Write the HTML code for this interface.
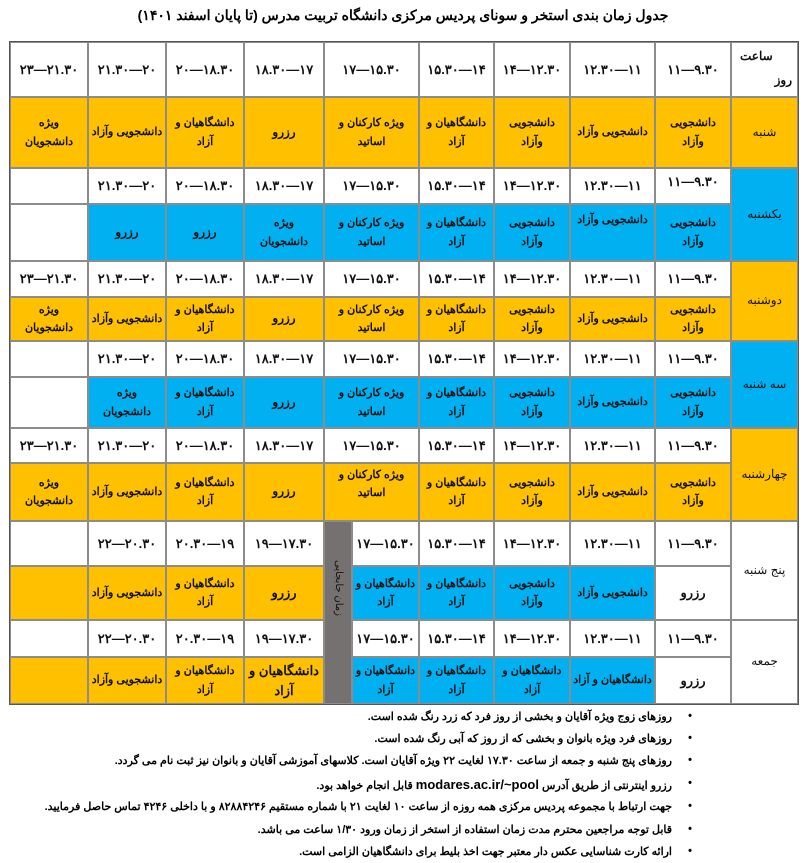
<!DOCTYPE html>
<html><head><meta charset="utf-8"><style>
body{margin:0;width:806px;height:863px;background:#fff;position:relative;overflow:hidden;font-family:"Liberation Sans","Noto Sans CJK SC",sans-serif;}
.c{position:absolute;box-sizing:border-box;border:1px solid #8c8c8c;display:flex;align-items:center;justify-content:center;text-align:center;font-weight:bold;font-size:11px;line-height:1.65;color:#111;direction:rtl;white-space:nowrap;overflow:hidden}
.t{direction:ltr;font-size:13px}
.y{background:#FFC000}.b{background:#00B0F0}.w{background:#fff}
.g{background:#767171}
.title{position:absolute;top:7px;left:0;width:806px;text-align:center;font-weight:bold;font-size:14px;direction:rtl}
.n{position:absolute;right:134px;font-weight:bold;font-size:11px;direction:rtl;white-space:nowrap}
.n:after{content:"•";position:absolute;right:-20px;}
.d{font-weight:normal;font-size:12px}
</style></head><body>
<div class="title">جدول زمان بندی استخر و سونای پردیس مرکزی دانشگاه تربیت مدرس (تا پایان اسفند ۱۴۰۱)</div>
<div style="position:absolute;left:9px;top:41px;width:790px;height:664px;border:1px solid #555;box-sizing:border-box"></div>

<!-- header -->
<div class="c w" style="left:731px;top:42px;width:67px;height:55px;display:block;font-size:12px"><div style="position:absolute;top:4px;left:8px">ساعت</div><div style="position:absolute;top:28px;right:5px">روز</div></div>
<div class="c w t" style="left:655px;top:42px;width:76px;height:55px">۱۱—۹.۳۰</div>
<div class="c w t" style="left:570px;top:42px;width:85px;height:55px">۱۲.۳۰—۱۱</div>
<div class="c w t" style="left:494px;top:42px;width:76px;height:55px">۱۴—۱۲.۳۰</div>
<div class="c w t" style="left:419px;top:42px;width:75px;height:55px">۱۵.۳۰—۱۴</div>
<div class="c w t" style="left:324px;top:42px;width:95px;height:55px">۱۷—۱۵.۳۰</div>
<div class="c w t" style="left:244px;top:42px;width:80px;height:55px">۱۸.۳۰—۱۷</div>
<div class="c w t" style="left:166px;top:42px;width:78px;height:55px">۲۰—۱۸.۳۰</div>
<div class="c w t" style="left:88px;top:42px;width:78px;height:55px">۲۱.۳۰—۲۰</div>
<div class="c w t" style="left:10px;top:42px;width:78px;height:55px">۲۳—۲۱.۳۰</div>

<!-- shanbe -->
<div class="c y d" style="left:731px;top:97px;width:67px;height:71px">شنبه</div>
<div class="c y" style="left:655px;top:97px;width:76px;height:71px">دانشجویی<br>وآزاد</div>
<div class="c y" style="left:570px;top:97px;width:85px;height:71px">دانشجویی وآزاد</div>
<div class="c y" style="left:494px;top:97px;width:76px;height:71px">دانشجویی<br>وآزاد</div>
<div class="c y" style="left:419px;top:97px;width:75px;height:71px">دانشگاهیان و<br>آزاد</div>
<div class="c y" style="left:324px;top:97px;width:95px;height:71px">ویژه کارکنان و<br>اساتید</div>
<div class="c y" style="left:244px;top:97px;width:80px;height:71px;font-size:12px">رزرو</div>
<div class="c y" style="left:166px;top:97px;width:78px;height:71px">دانشگاهیان و<br>آزاد</div>
<div class="c y" style="left:88px;top:97px;width:78px;height:71px">دانشجویی وآزاد</div>
<div class="c y" style="left:10px;top:97px;width:78px;height:71px">ویژه<br>دانشجویان</div>

<!-- yekshanbe -->
<div class="c b d" style="left:731px;top:168px;width:67px;height:93px">یکشنبه</div>
<div class="c w t" style="left:655px;top:168px;width:76px;height:36px;align-items:flex-start;padding-top:2px">۱۱—۹.۳۰</div>
<div class="c w t" style="left:570px;top:168px;width:85px;height:36px">۱۲.۳۰—۱۱</div>
<div class="c w t" style="left:494px;top:168px;width:76px;height:36px">۱۴—۱۲.۳۰</div>
<div class="c w t" style="left:419px;top:168px;width:75px;height:36px">۱۵.۳۰—۱۴</div>
<div class="c w t" style="left:324px;top:168px;width:95px;height:36px">۱۷—۱۵.۳۰</div>
<div class="c w t" style="left:244px;top:168px;width:80px;height:36px">۱۸.۳۰—۱۷</div>
<div class="c w t" style="left:166px;top:168px;width:78px;height:36px">۲۰—۱۸.۳۰</div>
<div class="c w t" style="left:88px;top:168px;width:78px;height:36px">۲۱.۳۰—۲۰</div>
<div class="c w" style="left:10px;top:168px;width:78px;height:36px"></div>
<div class="c b" style="left:655px;top:204px;width:76px;height:57px">دانشجویی<br>وآزاد</div>
<div class="c b" style="left:570px;top:204px;width:85px;height:57px;align-items:flex-start;padding-top:6px">دانشجویی وآزاد</div>
<div class="c b" style="left:494px;top:204px;width:76px;height:57px">دانشجویی<br>وآزاد</div>
<div class="c b" style="left:419px;top:204px;width:75px;height:57px">دانشگاهیان و<br>آزاد</div>
<div class="c b" style="left:324px;top:204px;width:95px;height:57px">ویژه کارکنان و<br>اساتید</div>
<div class="c b" style="left:244px;top:204px;width:80px;height:57px">ویژه<br>دانشجویان</div>
<div class="c b" style="left:166px;top:204px;width:78px;height:57px;font-size:12px">رزرو</div>
<div class="c b" style="left:88px;top:204px;width:78px;height:57px;font-size:12px">رزرو</div>
<div class="c w" style="left:10px;top:204px;width:78px;height:57px"></div>

<!-- doshanbe -->
<div class="c y d" style="left:731px;top:261px;width:67px;height:80px">دوشنبه</div>
<div class="c w t" style="left:655px;top:261px;width:76px;height:36px">۱۱—۹.۳۰</div>
<div class="c w t" style="left:570px;top:261px;width:85px;height:36px">۱۲.۳۰—۱۱</div>
<div class="c w t" style="left:494px;top:261px;width:76px;height:36px">۱۴—۱۲.۳۰</div>
<div class="c w t" style="left:419px;top:261px;width:75px;height:36px">۱۵.۳۰—۱۴</div>
<div class="c w t" style="left:324px;top:261px;width:95px;height:36px">۱۷—۱۵.۳۰</div>
<div class="c w t" style="left:244px;top:261px;width:80px;height:36px">۱۸.۳۰—۱۷</div>
<div class="c w t" style="left:166px;top:261px;width:78px;height:36px">۲۰—۱۸.۳۰</div>
<div class="c w t" style="left:88px;top:261px;width:78px;height:36px">۲۱.۳۰—۲۰</div>
<div class="c w t" style="left:10px;top:261px;width:78px;height:36px">۲۳—۲۱.۳۰</div>
<div class="c y" style="left:655px;top:297px;width:76px;height:44px">دانشجویی<br>وآزاد</div>
<div class="c y" style="left:570px;top:297px;width:85px;height:44px">دانشجویی وآزاد</div>
<div class="c y" style="left:494px;top:297px;width:76px;height:44px">دانشجویی<br>وآزاد</div>
<div class="c y" style="left:419px;top:297px;width:75px;height:44px">دانشگاهیان و<br>آزاد</div>
<div class="c y" style="left:324px;top:297px;width:95px;height:44px">ویژه کارکنان و<br>اساتید</div>
<div class="c y" style="left:244px;top:297px;width:80px;height:44px;font-size:12px">رزرو</div>
<div class="c y" style="left:166px;top:297px;width:78px;height:44px">دانشگاهیان و<br>آزاد</div>
<div class="c y" style="left:88px;top:297px;width:78px;height:44px">دانشجویی وآزاد</div>
<div class="c y" style="left:10px;top:297px;width:78px;height:44px">ویژه<br>دانشجویان</div>

<!-- seshanbe -->
<div class="c b d" style="left:731px;top:341px;width:67px;height:87px">سه شنبه</div>
<div class="c w t" style="left:655px;top:341px;width:76px;height:36px">۱۱—۹.۳۰</div>
<div class="c w t" style="left:570px;top:341px;width:85px;height:36px">۱۲.۳۰—۱۱</div>
<div class="c w t" style="left:494px;top:341px;width:76px;height:36px">۱۴—۱۲.۳۰</div>
<div class="c w t" style="left:419px;top:341px;width:75px;height:36px">۱۵.۳۰—۱۴</div>
<div class="c w t" style="left:324px;top:341px;width:95px;height:36px">۱۷—۱۵.۳۰</div>
<div class="c w t" style="left:244px;top:341px;width:80px;height:36px">۱۸.۳۰—۱۷</div>
<div class="c w t" style="left:166px;top:341px;width:78px;height:36px">۲۰—۱۸.۳۰</div>
<div class="c w t" style="left:88px;top:341px;width:78px;height:36px">۲۱.۳۰—۲۰</div>
<div class="c w" style="left:10px;top:341px;width:78px;height:36px"></div>
<div class="c b" style="left:655px;top:377px;width:76px;height:51px">دانشجویی<br>وآزاد</div>
<div class="c b" style="left:570px;top:377px;width:85px;height:51px">دانشجویی وآزاد</div>
<div class="c b" style="left:494px;top:377px;width:76px;height:51px">دانشجویی<br>وآزاد</div>
<div class="c b" style="left:419px;top:377px;width:75px;height:51px">دانشگاهیان و<br>آزاد</div>
<div class="c b" style="left:324px;top:377px;width:95px;height:51px">ویژه کارکنان و<br>اساتید</div>
<div class="c b" style="left:244px;top:377px;width:80px;height:51px;font-size:12px">رزرو</div>
<div class="c b" style="left:166px;top:377px;width:78px;height:51px">دانشگاهیان و<br>آزاد</div>
<div class="c b" style="left:88px;top:377px;width:78px;height:51px">ویژه<br>دانشجویان</div>
<div class="c w" style="left:10px;top:377px;width:78px;height:51px"></div>

<!-- chaharshanbe -->
<div class="c y d" style="left:731px;top:428px;width:67px;height:93px">چهارشنبه</div>
<div class="c w t" style="left:655px;top:428px;width:76px;height:35px">۱۱—۹.۳۰</div>
<div class="c w t" style="left:570px;top:428px;width:85px;height:35px">۱۲.۳۰—۱۱</div>
<div class="c w t" style="left:494px;top:428px;width:76px;height:35px">۱۴—۱۲.۳۰</div>
<div class="c w t" style="left:419px;top:428px;width:75px;height:35px">۱۵.۳۰—۱۴</div>
<div class="c w t" style="left:324px;top:428px;width:95px;height:35px">۱۷—۱۵.۳۰</div>
<div class="c w t" style="left:244px;top:428px;width:80px;height:35px">۱۸.۳۰—۱۷</div>
<div class="c w t" style="left:166px;top:428px;width:78px;height:35px">۲۰—۱۸.۳۰</div>
<div class="c w t" style="left:88px;top:428px;width:78px;height:35px">۲۱.۳۰—۲۰</div>
<div class="c w t" style="left:10px;top:428px;width:78px;height:35px">۲۳—۲۱.۳۰</div>
<div class="c y" style="left:655px;top:463px;width:76px;height:58px">دانشجویی<br>وآزاد</div>
<div class="c y" style="left:570px;top:463px;width:85px;height:58px">دانشجویی وآزاد</div>
<div class="c y" style="left:494px;top:463px;width:76px;height:58px">دانشجویی<br>وآزاد</div>
<div class="c y" style="left:419px;top:463px;width:75px;height:58px">دانشگاهیان و<br>آزاد</div>
<div class="c y" style="left:324px;top:463px;width:95px;height:58px;align-items:flex-start;padding-top:2px">ویژه کارکنان و<br>اساتید</div>
<div class="c y" style="left:244px;top:463px;width:80px;height:58px;font-size:12px">رزرو</div>
<div class="c y" style="left:166px;top:463px;width:78px;height:58px">دانشگاهیان و<br>آزاد</div>
<div class="c y" style="left:88px;top:463px;width:78px;height:58px">دانشجویی وآزاد</div>
<div class="c y" style="left:10px;top:463px;width:78px;height:58px">ویژه<br>دانشجویان</div>

<!-- panjshanbe -->
<div class="c w d" style="left:731px;top:521px;width:67px;height:99px">پنج شنبه</div>
<div class="c w t" style="left:655px;top:521px;width:76px;height:45px">۱۱—۹.۳۰</div>
<div class="c w t" style="left:570px;top:521px;width:85px;height:45px">۱۲.۳۰—۱۱</div>
<div class="c w t" style="left:494px;top:521px;width:76px;height:45px">۱۴—۱۲.۳۰</div>
<div class="c w t" style="left:419px;top:521px;width:75px;height:45px">۱۵.۳۰—۱۴</div>
<div class="c w t" style="left:352px;top:521px;width:67px;height:45px">۱۷—۱۵.۳۰</div>
<div class="c w t" style="left:244px;top:521px;width:80px;height:45px">۱۹—۱۷.۳۰</div>
<div class="c w t" style="left:166px;top:521px;width:78px;height:45px">۲۰.۳۰—۱۹</div>
<div class="c w t" style="left:88px;top:521px;width:78px;height:45px">۲۲—۲۰.۳۰</div>
<div class="c w" style="left:10px;top:521px;width:78px;height:45px"></div>
<div class="c w" style="left:655px;top:566px;width:76px;height:54px;font-size:13px">رزرو</div>
<div class="c b" style="left:570px;top:566px;width:85px;height:54px">دانشجویی وآزاد</div>
<div class="c b" style="left:494px;top:566px;width:76px;height:54px">دانشجویی<br>وآزاد</div>
<div class="c b" style="left:419px;top:566px;width:75px;height:54px">دانشگاهیان و<br>آزاد</div>
<div class="c b" style="left:352px;top:566px;width:67px;height:54px">دانشگاهیان و<br>آزاد</div>
<div class="c y" style="left:244px;top:566px;width:80px;height:54px;font-size:13px">رزرو</div>
<div class="c y" style="left:166px;top:566px;width:78px;height:54px">دانشگاهیان و<br>آزاد</div>
<div class="c y" style="left:88px;top:566px;width:78px;height:54px">دانشجویی وآزاد</div>
<div class="c y" style="left:10px;top:566px;width:78px;height:54px"></div>

<!-- jome -->
<div class="c w d" style="left:731px;top:620px;width:67px;height:84px">جمعه</div>
<div class="c w t" style="left:655px;top:620px;width:76px;height:37px">۱۱—۹.۳۰</div>
<div class="c w t" style="left:570px;top:620px;width:85px;height:37px">۱۲.۳۰—۱۱</div>
<div class="c w t" style="left:494px;top:620px;width:76px;height:37px">۱۴—۱۲.۳۰</div>
<div class="c w t" style="left:419px;top:620px;width:75px;height:37px">۱۵.۳۰—۱۴</div>
<div class="c w t" style="left:352px;top:620px;width:67px;height:37px">۱۷—۱۵.۳۰</div>
<div class="c w t" style="left:244px;top:620px;width:80px;height:37px">۱۹—۱۷.۳۰</div>
<div class="c w t" style="left:166px;top:620px;width:78px;height:37px">۲۰.۳۰—۱۹</div>
<div class="c w t" style="left:88px;top:620px;width:78px;height:37px">۲۲—۲۰.۳۰</div>
<div class="c w" style="left:10px;top:620px;width:78px;height:37px"></div>
<div class="c w" style="left:655px;top:657px;width:76px;height:47px;font-size:13px">رزرو</div>
<div class="c b" style="left:570px;top:657px;width:85px;height:47px">دانشگاهیان و آزاد</div>
<div class="c b" style="left:494px;top:657px;width:76px;height:47px">دانشگاهیان و<br>آزاد</div>
<div class="c b" style="left:419px;top:657px;width:75px;height:47px">دانشگاهیان و<br>آزاد</div>
<div class="c b" style="left:352px;top:657px;width:67px;height:47px">دانشگاهیان و<br>آزاد</div>
<div class="c y" style="left:244px;top:657px;width:80px;height:47px;font-size:13px;line-height:1.5">دانشگاهیان و<br>آزاد</div>
<div class="c y" style="left:166px;top:657px;width:78px;height:47px">دانشگاهیان و<br>آزاد</div>
<div class="c y" style="left:88px;top:657px;width:78px;height:47px">دانشجویی وآزاد</div>
<div class="c y" style="left:10px;top:657px;width:78px;height:47px"></div>

<!-- gray column -->
<div class="g" style="position:absolute;left:324px;top:521px;width:28px;height:183px;box-sizing:border-box;border:1px solid #8c8c8c"></div>
<div style="position:absolute;left:330px;top:548px;width:16px;height:80px;writing-mode:vertical-rl;font-size:10px;line-height:16px;color:#111;text-align:center">زمان جابجایی</div>

<!-- notes -->
<div class="n" style="top:710px">روزهای زوج ویژه آقایان و بخشی از روز فرد که زرد رنگ شده است.</div>
<div class="n" style="top:732px">روزهای فرد ویژه بانوان و بخشی که از روز که آبی رنگ شده است.</div>
<div class="n" style="top:754px">روزهای پنج شنبه و جمعه از ساعت ۱۷.۳۰ لغایت ۲۲ ویژه آقایان است. کلاسهای آموزشی آقایان و بانوان نیز ثبت نام می گردد.</div>
<div class="n" style="top:777px">رزرو اینترنتی از طریق آدرس <span style="font-size:13px">modares.ac.ir/~pool</span> قابل انجام خواهد بود.</div>
<div class="n" style="top:800px">جهت ارتباط با مجموعه پردیس مرکزی همه روزه از ساعت ۱۰ لغایت ۲۱ با شماره مستقیم ۸۲۸۸۴۲۴۶ و با داخلی ۴۲۴۶ تماس حاصل فرمایید.</div>
<div class="n" style="top:823px">قابل توجه مراجعین محترم مدت زمان استفاده از استخر از زمان ورود ۱/۳۰ ساعت می باشد.</div>
<div class="n" style="top:845px">ارائه کارت شناسایی عکس دار معتبر جهت اخذ بلیط برای دانشگاهیان الزامی است.</div>
</body></html>
